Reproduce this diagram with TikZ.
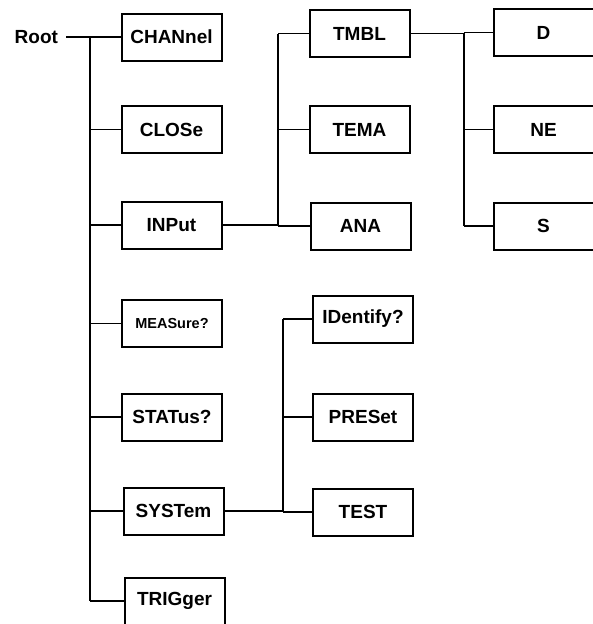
\documentclass[tikz,border=0pt]{standalone}
\usepackage{fontspec}
\setmainfont{Liberation Sans}
\begin{document}
\begin{tikzpicture}[x=1pt,y=-1pt,
  cmdbox/.style={draw,line width=2pt,minimum width=100pt,minimum height=47pt,inner sep=0pt,
    font=\fontsize{19}{22}\selectfont\bfseries},
  conn/.style={line width=1.8pt}]
\useasboundingbox (0,0) rectangle (593,624);
% level 1
\node[cmdbox] (chan) at (171.5,37) {CHANnel};
\node[cmdbox] (close) at (171.5,129.5) {CLOSe};
\node[cmdbox] (inp) at (171.5,225) {INPut};
\node[cmdbox,font=\fontsize{14.5}{16}\selectfont\bfseries] (meas) at (172,323.5) {MEASure?};
\node[cmdbox] (stat) at (172,417) {STATus?};
\node[cmdbox] (syst) at (173.5,511) {SYSTem};
\node[cmdbox] (trig) at (174.5,601) {TRIGger};
% INPut children
\node[cmdbox] (tmbl) at (359.5,33.5) {TMBL};
\node[cmdbox] (tema) at (359.5,129.5) {TEMA};
\node[cmdbox] (ana) at (360.5,226) {ANA};
% TMBL children
\node[cmdbox] (d) at (543.5,32.5) {D};
\node[cmdbox] (ne) at (543.5,129.5) {NE};
\node[cmdbox] (s) at (543.5,226) {S};
% SYSTem children
\node[cmdbox] (ident) at (363,319) {IDentify?};
\node[cmdbox] (pres) at (363,417) {PRESet};
\node[cmdbox] (test) at (363,512) {TEST};
% root
\node[anchor=east,inner sep=0pt,outer xsep=8pt,font=\fontsize{19}{22}\selectfont\bfseries] (root) at (66,37) {Root};
% trunk coordinates
\coordinate (tA) at (90,0);
\coordinate (tB) at (278,0);
\coordinate (tC) at (464,0);
\coordinate (tD) at (283,0);
% root tree
\draw[conn] (root.east) -- (chan.west);
\draw[conn] (tA |- chan.west) -- (tA |- trig.west);
\foreach \n in {close,inp,meas,stat,syst,trig}
  \draw[conn] (tA |- \n.west) -- (\n.west);
% INPut tree
\draw[conn] (inp.east) -- (inp.east -| tB);
\draw[conn] (tB |- tmbl.west) -- (tB |- ana.west);
\foreach \n in {tmbl,tema,ana}
  \draw[conn] (tB |- \n.west) -- (\n.west);
% TMBL tree
\draw[conn] (tmbl.east) -- (tmbl.east -| tC);
\draw[conn] (tC |- d.west) -- (tC |- s.west);
\foreach \n in {d,ne,s}
  \draw[conn] (tC |- \n.west) -- (\n.west);
% SYSTem tree
\draw[conn] (syst.east) -- (syst.east -| tD);
\draw[conn] (tD |- ident.west) -- (tD |- test.west);
\foreach \n in {ident,pres,test}
  \draw[conn] (tD |- \n.west) -- (\n.west);
\end{tikzpicture}
\end{document}
